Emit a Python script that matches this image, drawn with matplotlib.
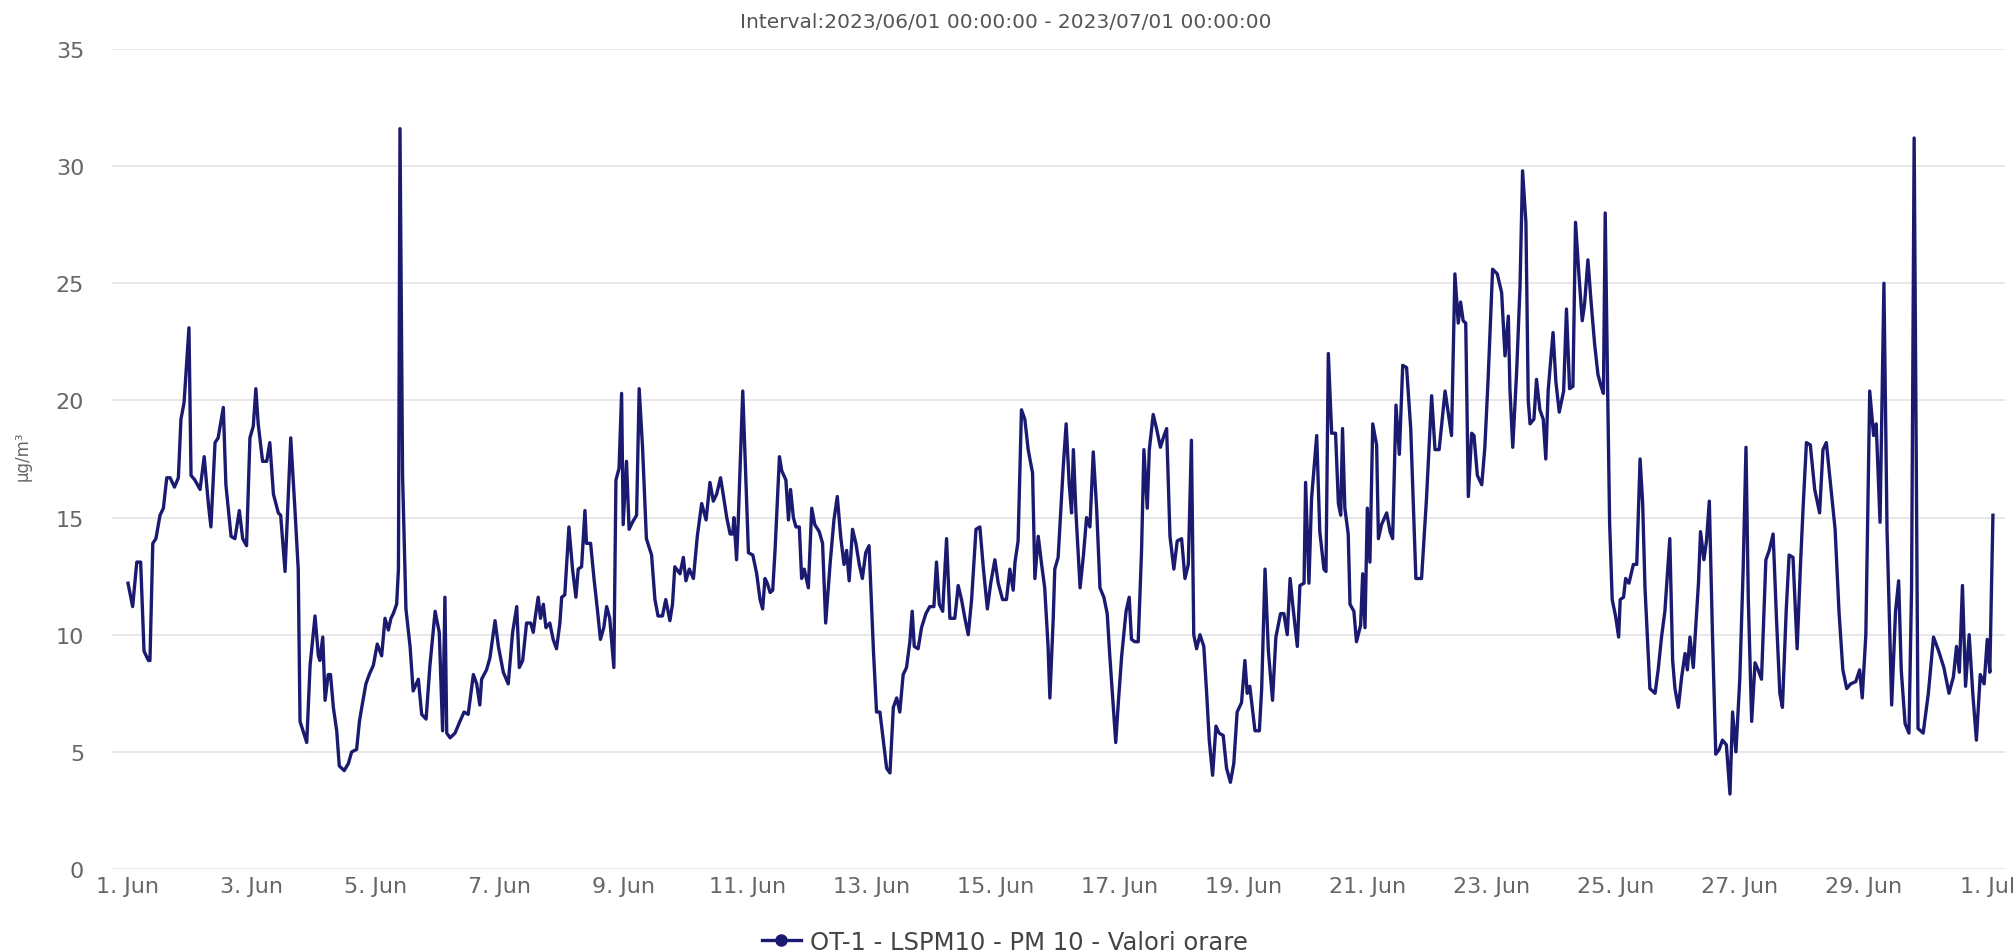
import matplotlib
matplotlib.use("Agg")
import matplotlib.pyplot as plt
from matplotlib.lines import Line2D

plt.rcParams['font.family'] = ['DejaVu Sans']

title = "Interval:2023/06/01 00:00:00 - 2023/07/01 00:00:00"
y_label = "μg/m³"
series_name = "OT-1 - LSPM10 - PM 10 - Valori orare"

# hours since 2023-06-01 00:00
hours = [
    0, 1.8, 3.4, 4.9, 6.2, 7.9, 8.5, 9.6, 10.8, 12.4, 13.7, 15.0, 16.3, 18.0, 19.5, 20.5, 21.7, 23.6, 24.4, 25.9,
    27.9, 29.5, 31.1, 32.1, 33.7, 34.9, 36.9, 37.9, 39.9, 41.4, 43.1, 44.4, 45.9, 47.2, 48.5, 49.5, 50.4, 52.1, 53.7, 54.9,
    56.3, 58.2, 59.1, 60.8, 63.0, 64.6, 65.9,
    66.6, 69.2, 70.5, 72.4, 73.7, 74.3, 75.4, 76.3, 77.5, 78.4, 79.5, 80.8, 81.8, 83.7, 85.3, 86.6, 88.5, 89.6, 90.5, 92.1,
    93.4, 95.0, 96.5, 98.2, 99.5, 100.8, 101.8, 102.7, 104.0, 104.7, 105.3, 106.3, 107.6, 109.2, 110.4, 112.4, 113.7, 115.4,
    116.9, 118.9, 120.5, 121.8, 122.7, 123.4, 124.7, 126.6, 128.5, 130.1, 131.7, 133.7, 135.0, 136.2, 136.9, 138.8,
    140.1, 142.1, 143.4, 145.3, 147.2, 148.9, 150.5, 151.5, 152.8, 154.3, 155.9, 156.9, 157.6, 158.8, 159.7, 160.8, 161.8,
    163.3, 164.6, 165.9, 167.2, 167.9, 169.1, 170.7, 172.1, 173.4, 174.3, 175.6, 176.9, 177.5, 179.1, 180.4, 181.7, 182.9,
    184.2, 185.3, 186.5, 188.1, 188.9, 190.1, 191.1, 191.7, 193.0, 194.0, 195.3, 196.9, 197.9, 199.2, 200.7, 202.7, 204.0,
    205.2, 206.9, 208.2, 209.8, 210.8, 211.7,
    213.7, 215.0, 216.0, 217.3, 218.9, 220.4, 222.1, 223.8, 225.3, 226.6, 227.9, 229.4, 230.7, 231.8, 233.1, 234.1, 234.6,
    235.6, 236.3, 238.0, 238.9, 240.2, 241.9, 243.4, 244.7, 245.7, 246.6, 247.5, 248.6, 249.6, 250.5, 252.2, 253.1, 254.7,
    255.7, 256.5, 257.6, 258.6, 259.9, 260.8, 261.8, 263.4, 264.7, 265.9, 267.6, 268.9, 270.1, 271.8, 273.3, 274.6, 275.9,
    277.2, 278.2, 279.2, 280.5, 281.8, 283.1, 284.3, 285.6, 286.9,
    288.6, 289.8, 291.1, 292.4, 293.7, 295.0, 296.3, 297.6, 298.8, 300.1, 301.4, 302.7, 303.6, 304.4, 305.9, 307.2, 308.9,
    310.4, 312.0, 313.0, 314.1, 315.4, 316.9, 318.2, 320.1, 321.4, 322.7, 324.0, 325.3, 326.6, 328.3, 329.8, 331.1, 332.7,
    334.0, 335.6, 336.9, 338.6, 340.1, 341.4, 342.7, 343.4, 344.6, 345.9, 347.2, 348.5, 350.2, 351.1, 352.4, 353.7, 354.9,
    356.2, 356.9, 358.2, 358.8, 360.1,
    362.1, 363.2, 364.4, 365.3, 366.0, 367.0, 368.6, 369.9, 371.1, 372.4, 373.7, 375.0, 376.3, 377.8, 379.1, 380.1, 381.2,
    382.4, 383.4, 384.7, 386.4, 387.6, 388.5, 389.8, 391.1, 392.4, 393.3, 394.6, 395.4, 396.9, 398.2, 399.7, 400.8, 402.1,
    403.4, 404.9, 406.2, 407.9, 409.2, 410.5, 411.7, 412.6, 413.7, 415.0, 416.5, 417.6, 418.6, 419.9, 421.2, 422.4, 424.0,
    425.3, 426.8, 428.1, 429.4, 431.1, 432.4, 433.3,
    434.3, 436.3, 438.0, 438.9, 440.2, 441.5, 443.1, 444.4, 446.2, 447.5, 448.8, 449.9, 451.1, 452.7, 453.7, 455.3, 455.9,
    457.2, 458.2, 460.2, 461.4, 463.0, 463.8, 464.7, 466.0, 467.5, 468.6, 469.5, 470.2, 471.1, 472.4, 473.1, 474.6, 475.6,
    477.2, 478.0, 478.9, 479.8, 480.8, 481.9, 483.4, 484.1, 485.3, 487.3, 488.6, 489.6, 490.9, 492.2, 493.5, 495.0, 496.6,
    498.6, 500.8, 502.7, 504.7, 506.0, 507.6,
    509.9, 511.2, 512.4, 513.7, 515.0, 515.9, 516.9, 517.9, 518.9, 520.2, 521.1, 522.4, 524.1, 525.3, 526.6, 528.3, 530.1,
    531.8, 533.1, 534.4, 535.0, 536.1, 537.6, 538.9, 539.9, 541.2, 542.1, 542.8, 544.3, 545.3, 546.6, 547.9, 548.9, 549.8,
    551.7, 552.8, 554.1, 555.8, 556.9, 558.1, 559.4, 560.4, 561.7, 563.0, 563.9, 565.2, 566.5, 567.8, 569.1, 570.3, 571.2,
    571.9, 572.9, 573.6, 574.6, 575.9, 577.1, 577.7, 579.0, 579.8, 581.1,
    582.8, 584.1, 585.4, 586.4, 587.3, 589.2, 591.2, 592.4, 593.7, 595.0, 596.9, 598.0, 598.9, 600.2, 601.5, 602.8, 603.7,
    604.7, 606.0, 606.7, 608.0, 608.8, 610.1, 611.1, 612.2, 613.4, 614.7, 616.0, 617.3, 618.8, 620.2, 621.2, 622.5, 624.0,
    625.3, 626.4, 627.3, 628.6, 629.9, 631.1, 632.4, 634.1, 635.4, 636.9, 638.2, 639.5, 640.5, 642.0, 643.1, 644.6, 646.2,
    647.5, 648.5, 649.8, 651.3, 653.0, 654.9, 656.2, 657.5, 658.8,
    660.9, 662.4, 663.9, 665.4, 666.9, 668.9, 670.4, 671.4, 672.8, 674.3, 675.8, 676.8, 678.3, 679.8, 681.0, 682.8, 684.3,
    685.5, 686.5, 688.0, 689.5, 690.5, 691.5, 693.0, 695.0, 697.0, 699.0, 701.0, 703.0, 705.0, 706.7, 707.9, 709.0,
    710.2, 711.4, 712.8, 714.2, 715.6, 717.1, 718.6, 719.8, 720.8, 722.0,
]

pm10 = [
    12.2, 11.2, 13.1, 13.1, 9.3, 8.9, 8.9, 13.9, 14.1, 15.1, 15.4, 16.7, 16.7, 16.3, 16.7, 19.2, 19.9, 23.1, 16.8, 16.6,
    16.2, 17.6, 15.6, 14.6, 18.2, 18.4, 19.7, 16.4, 14.2, 14.1, 15.3, 14.1, 13.8, 18.4, 18.9, 20.5, 19.0, 17.4, 17.4, 18.2,
    16.0, 15.2, 15.1, 12.7, 18.4, 15.4, 12.8,
    6.3, 5.4, 8.7, 10.8, 9.1, 8.9, 9.9, 7.2, 8.3, 8.3, 6.9, 5.9, 4.4, 4.2, 4.5, 5.0, 5.1, 6.3, 6.9, 7.9,
    8.3, 8.7, 9.6, 9.1, 10.7, 10.2, 10.7, 10.9, 11.3, 12.8, 31.6, 16.8, 11.1, 9.5, 7.6, 8.1, 6.6, 6.4,
    8.7, 11.0, 10.1, 5.9, 11.6, 5.8, 5.6, 5.8, 6.3, 6.7, 6.6, 8.3, 7.9, 7.0, 8.1, 8.5,
    9.0, 10.6, 9.5, 8.4, 7.9, 10.1, 11.2, 8.6, 8.9, 10.5, 10.5, 10.1, 10.7, 11.6, 10.7, 11.3, 10.3,
    10.5, 9.8, 9.4, 10.5, 11.6, 11.7, 14.6, 12.8, 11.6, 12.8, 12.9, 15.3, 13.9, 13.9, 12.4, 11.1, 9.8,
    10.3, 11.2, 10.7, 8.6, 16.6, 17.1, 20.3, 14.7, 17.4, 14.5, 14.8, 15.1, 20.5, 18.0, 14.1, 13.4, 11.5,
    10.8, 10.8, 11.5, 10.6, 11.3, 12.9,
    12.6, 13.3, 12.3, 12.8, 12.4, 14.2, 15.6, 14.9, 16.5, 15.7, 16.0, 16.7, 15.8, 15.0, 14.3, 14.3, 15.0,
    13.2, 15.0, 20.4, 17.6, 13.5, 13.4, 12.6, 11.5, 11.1, 12.4, 12.2, 11.8, 11.9, 13.6, 17.6, 17.0, 16.6,
    14.9, 16.2, 15.0, 14.6, 14.6, 12.4, 12.8, 12.0, 15.4, 14.7, 14.4, 13.9, 10.5, 13.0, 14.9, 15.9, 14.2,
    13.0, 13.6, 12.3, 14.5, 13.9, 13.0, 12.4, 13.5, 13.8,
    9.3, 6.7, 6.7, 5.5, 4.3, 4.1, 6.9, 7.3, 6.7, 8.3, 8.6, 9.7, 11.0, 9.5, 9.4, 10.3, 10.9,
    11.2, 11.2, 13.1, 11.3, 11.0, 14.1, 10.7, 10.7, 12.1, 11.5, 10.7, 10.0, 11.5, 14.5, 14.6, 12.9, 11.1,
    12.2, 13.2, 12.2, 11.5, 11.5, 12.8, 11.9, 13.1, 14.0, 19.6, 19.2, 17.9, 16.9, 12.4, 14.2, 13.0, 12.0,
    9.5, 7.3, 10.7, 12.8, 13.3,
    17.2, 19.0, 16.4, 15.2, 17.9, 15.2, 12.0, 13.4, 15.0, 14.6, 17.8, 15.4, 12.0, 11.6, 10.9, 9.1, 7.3,
    5.4, 7.1, 9.1, 11.0, 11.6, 9.8, 9.7, 9.7, 13.6, 17.9, 15.4, 17.9, 19.4, 18.8, 18.0, 18.4, 18.8,
    14.2, 12.8, 14.0, 14.1, 12.4, 13.0, 18.3, 10.0, 9.4, 10.0, 9.5, 7.5, 5.5, 4.0, 6.1, 5.8, 5.7,
    4.3, 3.7, 4.5, 6.7, 7.1, 8.9, 7.5,
    7.8, 5.9, 5.9, 7.7, 12.8, 9.3, 7.2, 9.9, 10.9, 10.9, 10.0, 12.4, 11.1, 9.5, 12.1, 12.2, 16.5,
    12.2, 15.8, 18.5, 14.4, 12.8, 12.7, 22.0, 18.6, 18.6, 15.6, 15.1, 18.8, 15.4, 14.3, 11.3, 11.0, 9.7,
    10.4, 12.6, 10.3, 15.4, 13.1, 19.0, 18.1, 14.1, 14.7, 15.2, 14.4, 14.1, 19.8, 17.7, 21.5, 21.4, 18.8,
    12.4, 12.4, 15.8, 20.2, 17.9, 17.9,
    20.4, 19.4, 18.5, 25.4, 23.3, 24.2, 23.4, 23.3, 15.9, 18.6, 18.5, 16.8, 16.4, 18.0, 21.0, 25.6, 25.4,
    24.6, 21.9, 23.6, 20.5, 18.0, 21.2, 24.8, 29.8, 27.6, 20.0, 19.0, 19.2, 20.9, 19.6, 19.2, 17.5, 20.4,
    22.9, 20.8, 19.5, 20.4, 23.9, 20.5, 20.6, 27.6, 25.4, 23.4, 24.1, 26.0, 24.1, 22.4, 21.1, 20.6, 20.3,
    28.0, 20.0, 14.8, 11.5, 10.8, 9.9, 11.5, 11.6, 12.4, 12.2,
    13.0, 13.0, 17.5, 15.6, 12.0, 7.7, 7.5, 8.5, 9.9, 11.0, 14.1, 8.9, 7.7, 6.9, 8.2, 9.2, 8.5,
    9.9, 8.6, 9.9, 12.2, 14.4, 13.2, 14.0, 15.7, 10.1, 4.9, 5.1, 5.5, 5.3, 3.2, 6.7, 5.0, 8.1,
    12.8, 18.0, 11.5, 6.3, 8.8, 8.5, 8.1, 13.2, 13.6, 14.3, 10.7, 7.5, 6.9, 11.1, 13.4, 13.3, 9.4,
    13.0, 15.4, 18.2, 18.1, 16.2, 15.2, 17.9, 18.2, 16.8,
    14.5, 11.0, 8.5, 7.7, 7.9, 8.0, 8.5, 7.3, 10.0, 20.4, 18.5, 19.0, 14.8, 25.0, 14.5, 7.0, 11.0,
    12.3, 8.5, 6.2, 5.8, 12.0, 31.2, 6.0, 5.8, 7.5, 9.9, 9.3, 8.6, 7.5, 8.2, 9.5, 8.4,
    12.1, 7.8, 10.0, 7.5, 5.5, 8.3, 7.9, 9.8, 8.4, 15.1,
]

x_tick_hours = list(range(0, 721, 48))
x_tick_labels = ["1. Jun", "3. Jun", "5. Jun", "7. Jun", "9. Jun", "11. Jun", "13. Jun", "15. Jun",
                 "17. Jun", "19. Jun", "21. Jun", "23. Jun", "25. Jun", "27. Jun", "29. Jun", "1. Jul"]
y_ticks = [0, 5, 10, 15, 20, 25, 30, 35]

W, H = 2015, 953
fig = plt.figure(figsize=(W / 100, H / 100), dpi=100)
fig.patch.set_facecolor("white")
ax_left, ax_right, ax_top, ax_bottom = 112, 2005, 50, 870
ax = fig.add_axes([ax_left / W, 1 - ax_bottom / H, (ax_right - ax_left) / W, (ax_bottom - ax_top) / H])

line_color = "#1a1a70"
ax.plot(hours, pm10, color=line_color, lw=2.4, solid_joinstyle="round")

px_per_hour = 2.583
x0 = -(128 - ax_left) / px_per_hour
x1 = (ax_right - 128) / px_per_hour
ax.set_xlim(x0, x1)
ax.set_ylim(0, 35)
ax.set_yticks(y_ticks)
ax.set_xticks(x_tick_hours)
ax.set_xticklabels(x_tick_labels)
ax.grid(axis="y", color="#e3e3e3", lw=1.2)
ax.grid(axis="x", visible=False)
ax.set_axisbelow(True)
for s in ax.spines.values():
    s.set_visible(False)
ax.tick_params(axis="both", length=0, labelsize=16, labelcolor="#666666")
ax.tick_params(axis="x", pad=5)
ax.tick_params(axis="y", pad=20)

fig.text(1006 / W, 1 - 22 / H, title, ha="center", va="center", fontsize=14.5, color="#555555")
fig.text(23 / W, 1 - 456 / H, y_label, rotation=90, ha="center", va="center", fontsize=12, color="#666666")

handle = Line2D([], [], color=line_color, lw=2.4, marker="o", markersize=8)
fig.legend([handle], [series_name], loc="center", bbox_to_anchor=(1005 / W, 1 - 943 / H),
           frameon=False, fontsize=17.5, handlelength=1.6, handletextpad=0.4, labelcolor="#444444")

fig.savefig("out.png", dpi=100, facecolor="white")
